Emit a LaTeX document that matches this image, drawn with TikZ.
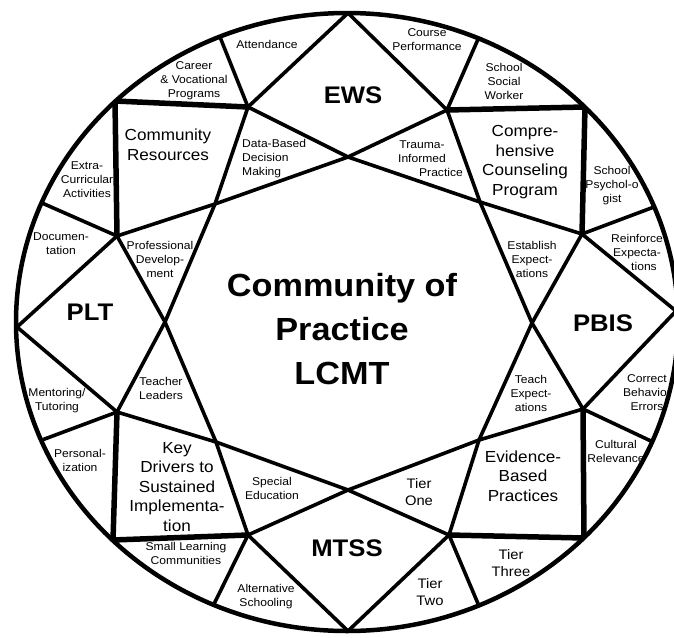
\documentclass[tikz,border=0pt]{standalone}
\usepackage{fontspec}
\setmainfont{Liberation Sans}[FakeStretch=1.07]
\usetikzlibrary{calc}
\tikzset{
    seg/.style = {draw, line width=3.6pt, line cap=round, line join=round},
    sqline/.style = {draw, line width=5.5pt, line cap=round, line join=round},
    rim/.style = {draw, line width=4.5pt},
    lbl/.style = {align=center, inner sep=0pt, font=\fontsize{11.3}{14}\selectfont},
    medlbl/.style = {align=center, inner sep=0pt, font=\fontsize{16}{19.5}\selectfont},
    tierlbl/.style = {align=center, inner sep=0pt, font=\fontsize{13.8}{17}\selectfont},
    hub/.style = {inner sep=0pt, font=\fontsize{24}{28}\selectfont\bfseries},
    core/.style = {align=center, inner sep=0pt, font=\fontsize{32}{44}\selectfont\bfseries}
}
\begin{document}
\begin{tikzpicture}[x=1pt, y=-1pt]
              \fill[white] (0,0) rectangle (674,637);
              \useasboundingbox (0,0) rectangle (674,637);
                % outer points of the four diamonds
                \coordinate (OE) at (348,13);
                \coordinate (OP) at (676,311);
                \coordinate (OM) at (348,631);
                \coordinate (OL) at (17,327);
                % points on the square
                \coordinate (B1) at (248,107);
                \coordinate (F1) at (447,110);
                \coordinate (R1) at (582,234);
                \coordinate (R2) at (583,409);
                \coordinate (M2) at (449,535);
                \coordinate (M1) at (248,535);
                \coordinate (L2) at (117,412);
                \coordinate (L1) at (117,236);
                \coordinate (TL) at (115,101);
                \coordinate (TR) at (585,107);
                \coordinate (BR) at (584,538);
                \coordinate (BL) at (113,540);
                % inner octagon
                \coordinate (XE) at (348,157);
                \coordinate (G1) at (480,202);
                \coordinate (XP) at (532,323);
                \coordinate (G2) at (479,440);
                \coordinate (XM) at (348,490);
                \coordinate (G3) at (216,442);
                \coordinate (XL) at (165,322);
                \coordinate (G4) at (215,204);
                % spokes on the rim
                \coordinate (C1) at (220,37);
                \coordinate (C2) at (479,37);
                \coordinate (C3) at (654,207);
                \coordinate (C4) at (653,442);
                \coordinate (C5) at (479,606);
                \coordinate (C6) at (213,606);
                \coordinate (C7) at (42,440);
                \coordinate (C8) at (42,203);
                \begin{scope}
                \clip (347,322) ellipse [x radius=331, y radius=309];
                \draw[seg] (B1) -- (XE) -- (G1) -- (R1);
                \draw[seg] (F1) -- (XE) -- (G4) -- (L1);
                \draw[seg] (F1) -- (G1) -- (XP) -- (R2);
                \draw[seg] (R1) -- (XP) -- (G2) -- (M2);
                \draw[seg] (R2) -- (G2) -- (XM) -- (M1);
                \draw[seg] (M2) -- (XM) -- (G3) -- (L2);
                \draw[seg] (M1) -- (G3) -- (XL) -- (L1);
                \draw[seg] (L2) -- (XL) -- (G4) -- (B1);
                \draw[seg] (B1) -- (OE) -- (F1);
                \draw[seg] (R1) -- (OP) -- (R2);
                \draw[seg] (M1) -- (OM) -- (M2);
                \draw[seg] (L1) -- (OL) -- (L2);
                \foreach \a/\b in {B1/C1, F1/C2, R1/C3, R2/C4, M2/C5, M1/C6, L2/C7, L1/C8}
                    \draw[seg] (\a) -- ($(\a)!1.1!(\b)$);
                \draw[sqline] (L1) -- (TL) -- (B1);
                \draw[sqline] (F1) -- (TR) -- (R1);
                \draw[sqline] (R2) -- (BR) -- (M2);
                \draw[sqline] (M1) -- (BL) -- (L2);
                \end{scope}
                \draw[rim] (347,322) ellipse [x radius=331, y radius=309];
                % labels
                \node[core] (cop) at (342,329) {Community of\\Practice\\LCMT};
                \node[hub] (ews) at (353,95) {EWS};
                \node[hub] (pbis) at (603,323) {PBIS};
                \node[hub] (mtss) at (347,548) {MTSS};
                \node[hub] (plt) at (90,312) {PLT};
                \node[medlbl] (commres) at (168,145) {Community\\Resources};
                \node[medlbl] (counsel) at (525,162) {Compre-\\hensive\\Counseling\\Program};
                \node[medlbl] (evidence) at (523,476) {Evidence-\\Based\\Practices};
                \node[medlbl] (keydrv) at (177,487) {Key\\Drivers to\\Sustained\\Implementa-\\tion};
                \node[tierlbl] (tierone) at (419,492) {Tier\\One};
                \node[tierlbl] (tiertwo) at (430,592) {Tier\\Two};
                \node[tierlbl] (tierthree) at (511,563) {Tier\\Three};
                \node[lbl] (att) at (267,44) {Attendance};
                \node[lbl] (career) at (194,81) {Career\\\& Vocational\\Programs};
                \node[lbl] (course) at (427,40) {Course\\Performance};
                \node[lbl] (social) at (504,81) {School\\Social\\Worker};
                \node[lbl] (trauma) at (422,159) {Trauma-\\Informed\\\hspace*{38pt}Practice};
                \node[lbl, align=left, anchor=west] (databased) at (242,159) {Data-Based\\Decision\\Making};
                \node[lbl] (extra) at (87,180) {Extra-\\Curricular\\Activities};
                \node[lbl] (doc) at (61,244) {Documen-\\tation};
                \node[lbl] (profdev) at (160,259) {Professional\\Develop-\\ment};
                \node[lbl] (psych) at (612,186) {School\\Psychol-o\\gist};
                \node[lbl] (reinforce) at (637,252) {Reinforce\\Expecta-\\\hspace*{14pt}tions};
                \node[lbl] (establish) at (532,259) {Establish\\Expect-\\ations};
                \node[lbl] (teach) at (531,393) {Teach\\Expect-\\ations};
                \node[lbl] (correct) at (647,393) {Correct\\Behavior\\Errors};
                \node[lbl] (cultural) at (616,451) {Cultural\\Relevance};
                \node[lbl] (special) at (272,488) {Special\\Education};
                \node[lbl] (slc) at (186,553) {Small Learning\\Communities};
                \node[lbl] (alt) at (266,597) {Alternative\\Schooling};
                \node[lbl] (personal) at (80,460) {Personal-\\ization};
                \node[lbl] (mentor) at (57,401) {Mentoring/\\Tutoring};
                \node[lbl] (teacher) at (161,388) {Teacher\\Leaders};
            \end{tikzpicture}
\end{document}
